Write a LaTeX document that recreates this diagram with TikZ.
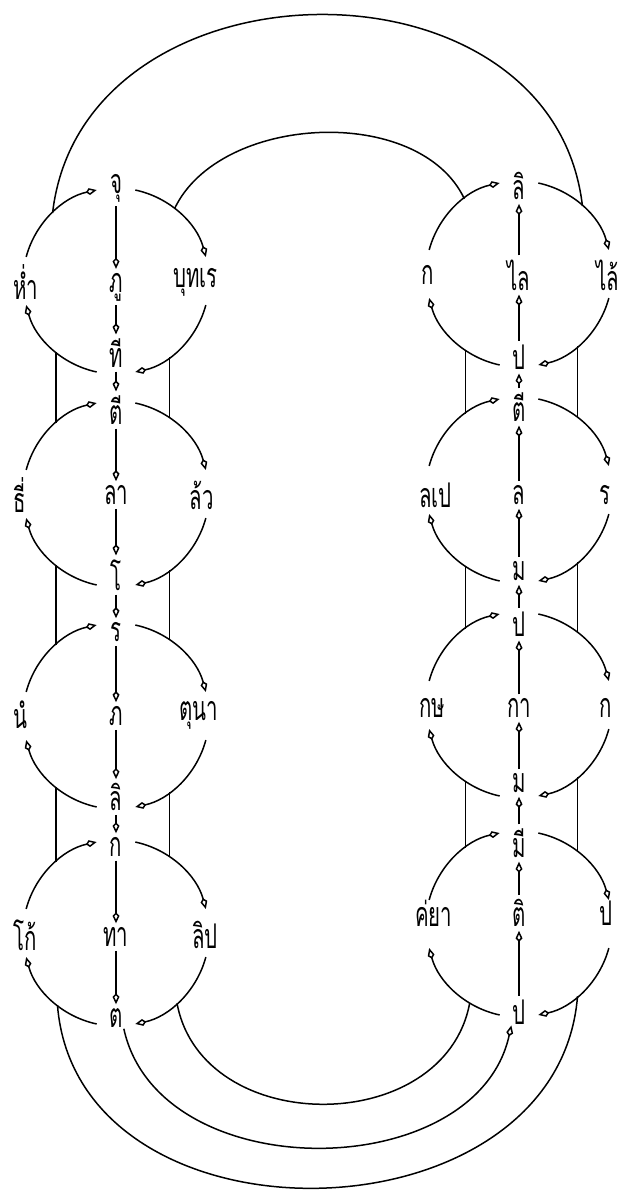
\documentclass[tikz,border=0pt]{standalone}
\usepackage{fontspec}
\newfontfamily\thaifont[Script=Thai,FakeStretch=0.6]{Loma}
\usetikzlibrary{arrows.meta}

\begin{document}
\begin{tikzpicture}[x=1pt, y=1pt,
  ring/.style={circle, minimum size=186pt, inner sep=0pt, outer sep=0pt},
  word/.style={font=\thaifont\fontsize{34}{36}\selectfont, inner sep=1pt},
  flow/.style={-{Kite[open, length=11pt, width=7pt, inset=3.5pt]}, line width=1.5pt},
  vflow/.style={flow, shorten >=3pt, shorten <=3pt},
  link/.style={line width=1.5pt},
]
\useasboundingbox (0,0) rectangle (623,-1194);

% Left circle 1
\node[ring] (L1) at (116,-281) {};
\node[word] (L1t) at (116,-188) {จุ};
\node[word, anchor=west] (L1l) at (12,-282) {ห่ำ};
\node[word] (L1m) at (116,-287) {ภู};
\node[word, anchor=east] (L1r) at (219,-282) {บุทเร};
\node[word] (L1b) at (116,-353) {ที};

% Left circle 2
\node[ring] (L2) at (116,-494) {};
\node[word] (L2t) at (116,-410) {ตี};
\node[word, anchor=west] (L2l) at (12,-495) {ธี่};
\node[word] (L2m) at (116,-495) {ลา};
\node[word, anchor=east] (L2r) at (215,-495) {ล้ว};
\node[word] (L2b) at (116,-575) {โ};

% Left circle 3
\node[ring] (L3) at (116,-716) {};
\node[word] (L3t) at (116,-632) {ร};
\node[word, anchor=west] (L3l) at (12,-715) {นํ};
\node[word] (L3m) at (116,-716) {ภ};
\node[word, anchor=east] (L3r) at (219,-715) {ตุนา};
\node[word] (L3b) at (116,-797) {ลิ};

% Left circle 4
\node[ring] (L4) at (116,-933) {};
\node[word] (L4t) at (116,-847) {ก};
\node[word, anchor=west] (L4l) at (12,-935) {โก้};
\node[word] (L4m) at (116,-937) {ทา};
\node[word, anchor=east] (L4r) at (219,-935) {ลิป};
\node[word] (L4b) at (116,-1018) {ต};

% Right circle 1
\node[ring] (R1) at (519,-274) {};
\node[word] (R1t) at (519,-186) {ลิ};
\node[word, anchor=west] (R1l) at (420,-275) {ก};
\node[word] (R1m) at (519,-275) {ไล};
\node[word, anchor=east] (R1r) at (620,-275) {ไล้};
\node[word] (R1b) at (519,-357) {ป};

% Right circle 2
\node[ring] (R2) at (519,-490) {};
\node[word] (R2t) at (519,-407) {ตี};
\node[word, anchor=west] (R2l) at (418,-495) {ลเป};
\node[word] (R2m) at (519,-495) {ล};
\node[word, anchor=west] (R2r) at (598,-495) {ร};
\node[word] (R2b) at (519,-571) {ม};

% Right circle 3
\node[ring] (R3) at (519,-705) {};
\node[word] (R3t) at (519,-624) {ป};
\node[word, anchor=west] (R3l) at (418,-708) {กษ};
\node[word] (R3m) at (519,-708) {กา};
\node[word, anchor=west] (R3r) at (598,-708) {ก};
\node[word] (R3b) at (519,-783) {ม};

% Right circle 4
\node[ring] (R4) at (519,-924) {};
\node[word] (R4t) at (519,-843) {มี};
\node[word, anchor=west] (R4l) at (414,-913) {ค่ยา};
\node[word] (R4m) at (519,-913) {ติ};
\node[word, anchor=west] (R4r) at (598,-913) {ป};
\node[word] (R4b) at (519,-1012) {ป};

% Circle arcs
\foreach \c in {L1,L2,L3,L4,R1,R2,R3,R4} {
  \draw[flow] (\c.165) arc[start angle=165, end angle=102, radius=93pt];
  \draw[flow] (\c.78) arc[start angle=78, end angle=15, radius=93pt];
  \draw[flow] (\c.-15) arc[start angle=-15, end angle=-78, radius=93pt];
  \draw[flow] (\c.-102) arc[start angle=-102, end angle=-165, radius=93pt];
}

% Side links
\foreach \a/\b in {L1/L2, L2/L3, L3/L4} {
  \draw[link] (\a.-130) -- (\b.130);
  \draw[link] (\a.-55) -- (\b.55);
}
\foreach \a/\b in {R1/R2, R2/R3, R3/R4} {
  \draw[link] (\a.-125) -- (\b.125);
  \draw[link] (\a.-51) -- (\b.51);
}

% Down the left
\draw[vflow] (L1t) -- (L1m);
\draw[vflow] (L1m) -- (L1b);
\draw[vflow] (L1b) -- (L2t);
\draw[vflow] (L2t) -- (L2m);
\draw[vflow] (L2m) -- (L2b);
\draw[vflow] (L2b) -- (L3t);
\draw[vflow] (L3t) -- (L3m);
\draw[vflow] (L3m) -- (L3b);
\draw[vflow] (L3b) -- (L4t);
\draw[vflow] (L4t) -- (L4m);
\draw[vflow] (L4m) -- (L4b);

% Up the right
\draw[vflow] (R4b) -- (R4m);
\draw[vflow] (R4m) -- (R4t);
\draw[vflow] (R4t) -- (R3b);
\draw[vflow] (R3b) -- (R3m);
\draw[vflow] (R3m) -- (R3t);
\draw[vflow] (R3t) -- (R2b);
\draw[vflow] (R2b) -- (R2m);
\draw[vflow] (R2m) -- (R2t);
\draw[vflow] (R2t) -- (R1b);
\draw[vflow] (R1b) -- (R1m);
\draw[vflow] (R1m) -- (R1t);

% Big arcs
\draw[link] (L1.133) .. controls +(30,260) and +(-30,260) .. (R1.47);
\draw[link] (L1.51) .. controls +(45,95) and +(-45,95) .. (R1.126);
\draw[link] (L4.-49) .. controls +(25,-135) and +(-25,-135) .. (R4.-122);
\draw[flow] (L4b.south east) .. controls +(35,-160) and +(-35,-160) .. (R4b.south west);
\draw[link] (L4.-129) .. controls +(20,-250) and +(-20,-250) .. (R4.-51);
\end{tikzpicture}
\end{document}
